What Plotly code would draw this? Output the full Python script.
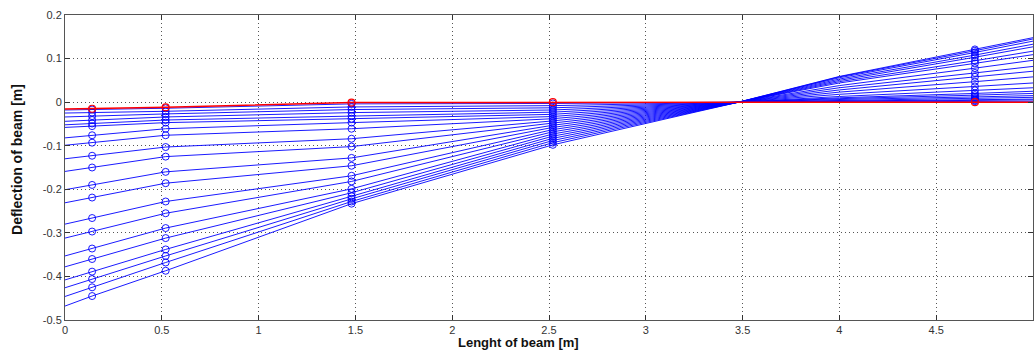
import plotly.graph_objects as go

# Beam node positions [m]
x_nodes = [0.0, 0.14, 0.52, 1.48, 2.52, 3.48, 4.0, 4.7, 5.0]
marker_nodes = [0.14, 0.52, 1.48, 2.52, 4.7]

# Deflection [m] of each line (index 0 = red line) at each node position
y_at_000 = [-0.016, -0.018, -0.025, -0.034, -0.044, -0.052, -0.058, -0.082, -0.099, -0.130, -0.159,
            -0.201, -0.231, -0.280, -0.312, -0.353, -0.378, -0.408, -0.426, -0.446, -0.468]
y_at_014 = [-0.015, -0.017, -0.024, -0.032, -0.041, -0.049, -0.055, -0.076, -0.093, -0.123, -0.150,
            -0.190, -0.219, -0.266, -0.297, -0.336, -0.360, -0.389, -0.406, -0.425, -0.445]
y_at_052 = [-0.012, -0.014, -0.021, -0.027, -0.034, -0.041, -0.047, -0.061, -0.076, -0.103, -0.125,
            -0.160, -0.186, -0.228, -0.255, -0.289, -0.312, -0.338, -0.353, -0.368, -0.387]
y_at_148 = [-0.001, -0.004, -0.011, -0.017, -0.024, -0.032, -0.038, -0.047, -0.061, -0.084, -0.102,
            -0.128, -0.146, -0.169, -0.182, -0.199, -0.208, -0.216, -0.222, -0.228, -0.233]
y_at_252 = [0.000, -0.003, -0.008, -0.013, -0.018, -0.023, -0.028, -0.033, -0.038, -0.043, -0.048,
            -0.053, -0.058, -0.063, -0.068, -0.073, -0.078, -0.083, -0.088, -0.093, -0.098]
y_at_348 = [0.0] * 21
y_at_400 = [0.000, 0.001, 0.002, 0.003, 0.004, 0.006, 0.008, 0.010, 0.013, 0.018, 0.023,
            0.028, 0.033, 0.038, 0.044, 0.047, 0.050, 0.053, 0.056, 0.058, 0.059]
y_at_470 = [0.000, 0.002, 0.004, 0.006, 0.009, 0.012, 0.016, 0.020, 0.027, 0.036, 0.047,
            0.058, 0.067, 0.078, 0.089, 0.095, 0.103, 0.108, 0.114, 0.118, 0.121]
y_at_500 = [0.000, 0.002, 0.005, 0.007, 0.011, 0.015, 0.020, 0.025, 0.033, 0.044, 0.058,
            0.071, 0.082, 0.096, 0.109, 0.117, 0.127, 0.133, 0.140, 0.145, 0.148]

x_tick_vals = [0, 0.5, 1, 1.5, 2, 2.5, 3, 3.5, 4, 4.5, 5]
x_tick_text = ["0", "0.5", "1", "1.5", "2", "2.5", "3", "3.5", "4", "4.5", "5"]
y_tick_vals = [0.2, 0.1, 0, -0.1, -0.2, -0.3, -0.4, -0.5]
y_tick_text = ["0.2", "0.1", "0", "-0.1", "-0.2", "-0.3", "-0.4", "-0.5"]

columns = [y_at_000, y_at_014, y_at_052, y_at_148, y_at_252, y_at_348, y_at_400, y_at_470, y_at_500]
marker_cols = [y_at_014, y_at_052, y_at_148, y_at_252, y_at_470]

fig = go.Figure()

order = list(range(1, 21)) + [0]
for i in order:
    color = "#ff0000" if i == 0 else "#0000ff"
    width = 1.5 if i == 0 else 0.9
    ys = [col[i] for col in columns]
    fig.add_trace(go.Scatter(x=x_nodes, y=ys, mode="lines",
                             line=dict(color=color, width=width), showlegend=False,
                             hoverinfo="skip"))
    ym = [col[i] for col in marker_cols]
    fig.add_trace(go.Scatter(x=marker_nodes, y=ym, mode="markers",
                             marker=dict(symbol="circle-open", size=7, color=color,
                                         line=dict(width=1.1 if i == 0 else 0.9, color=color)),
                             showlegend=False, hoverinfo="skip"))

axis_common = dict(
    showline=True, linecolor="#555555", linewidth=1, mirror="ticks",
    ticks="inside", ticklen=5, tickcolor="#333333",
    showgrid=True, gridcolor="#555555", griddash="1px,3px", gridwidth=1,
    zeroline=False,
    tickfont=dict(family="Liberation Sans, Arial, sans-serif", size=11, color="#333333"),
)

fig.update_xaxes(range=[0, 5], tickvals=x_tick_vals, ticktext=x_tick_text, **axis_common)
fig.update_yaxes(range=[-0.5, 0.2], tickvals=y_tick_vals, ticktext=y_tick_text, **axis_common)

fig.add_annotation(text="<b>Lenght of beam [m]</b>", xref="paper", yref="paper",
                   x=0.469, y=-0.1003, xanchor="center", yanchor="bottom", showarrow=False,
                   borderpad=0,
                   font=dict(family="Liberation Sans, Arial, sans-serif", size=13, color="#111111"))
fig.add_annotation(text="<b>Deflection of beam [m]</b>", xref="paper", yref="paper",
                   x=-0.0496, y=0.528, xanchor="center", yanchor="middle", showarrow=False,
                   textangle=-90,
                   font=dict(family="Liberation Sans Narrow, Liberation Sans, Arial, sans-serif", size=14, color="#111111"))

fig.update_layout(
    width=1035, height=351,
    margin=dict(l=65, r=2, t=15, b=31),
    paper_bgcolor="white", plot_bgcolor="white",
)

fig.write_html("out.html", config={"displayModeBar": False},
               post_script="document.body.style.margin='0';document.body.style.padding='0';document.body.style.overflow='hidden';")
